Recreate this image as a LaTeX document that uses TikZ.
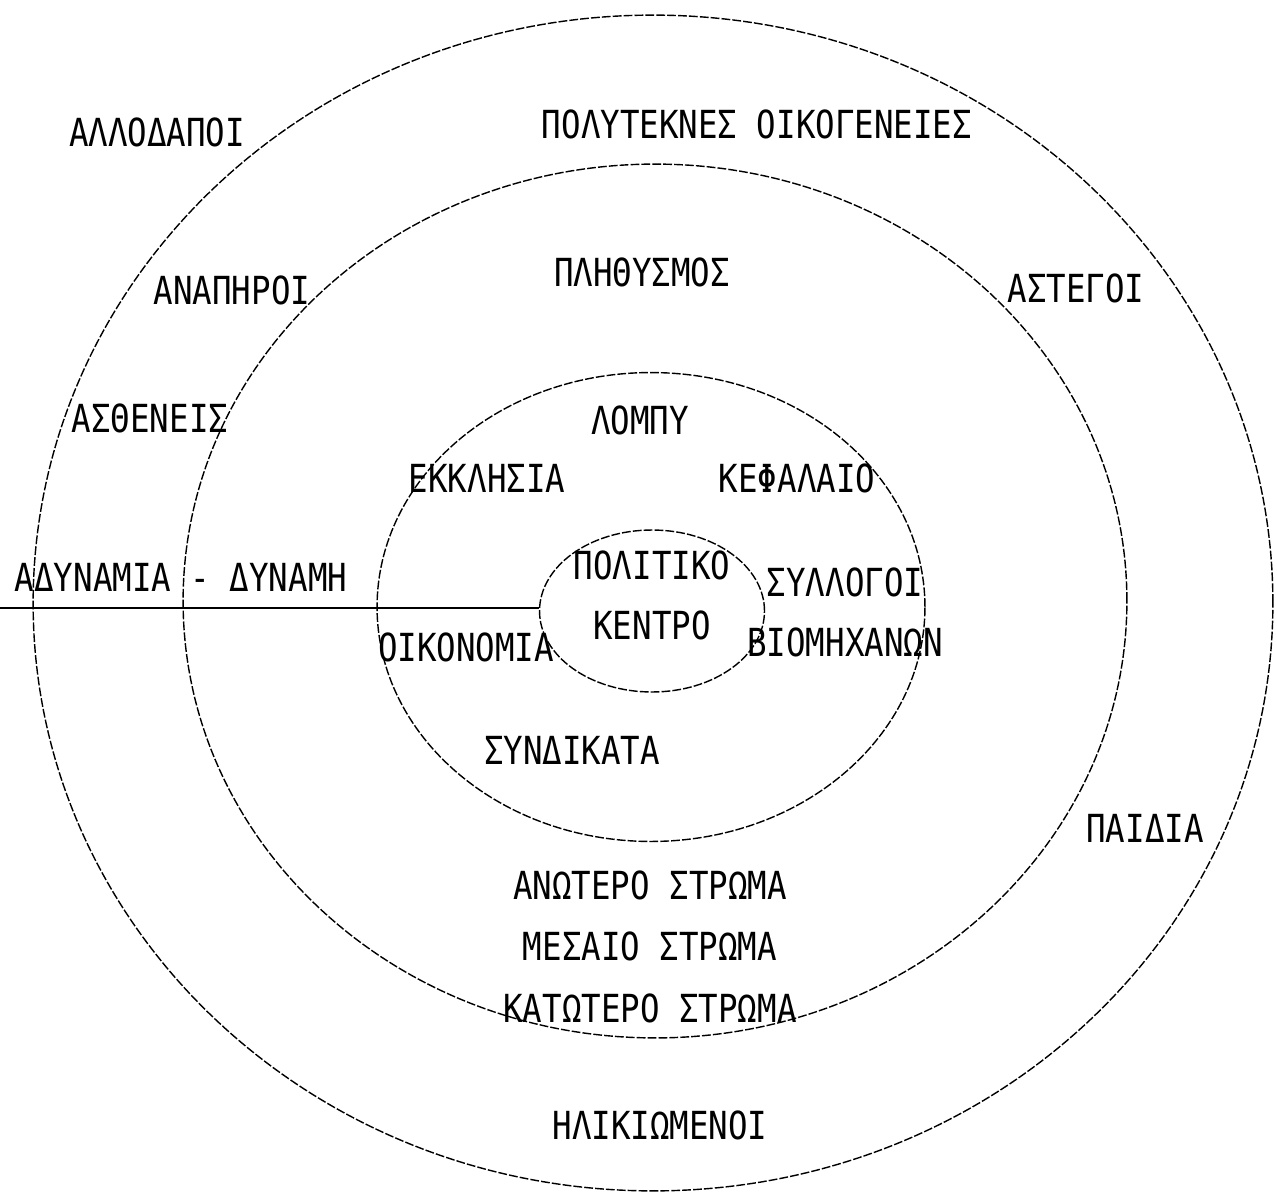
\documentclass[tikz,border=0pt]{standalone}
\usepackage{fontspec}
\newfontfamily\plotfont[FakeStretch=0.84]{DejaVu Sans Mono}
\usetikzlibrary{positioning,shapes.geometric}

\begin{document}
\begin{tikzpicture}[
    x=0.02cm,y=-0.02cm,
    node distance=0.66cm,
    ring/.style={draw,ellipse,inner sep=0pt,line width=0.8pt,dash pattern=on 5pt off 1.2pt},
    lbl/.style={inner sep=0pt,text height=16pt,text depth=0pt,font=\plotfont\fontsize{22}{24}\selectfont},
    axis/.style={line width=1.2pt}
  ]
    \useasboundingbox (0,0) rectangle (1277,1196);
    % rings, from the outside in
    \node[ring,minimum width=24.8cm,minimum height=23.52cm] (society) at (653,603) {};
    \node[ring,minimum width=18.88cm,minimum height=17.48cm] (population) at (655,601) {};
    \node[ring,minimum width=10.96cm,minimum height=9.38cm] (powers) at (651,607) {};
    \node[ring,minimum width=4.5cm,minimum height=3.24cm] (centre) at (652,611) {};

    % outer ring
    \node[lbl] (foreign) at (157,132) {ΑΛΛΟΔΑΠΟΙ};
    \node[lbl] (families) at (757,124) {ΠΟΛΥΤΕΚΝΕΣ ΟΙΚΟΓΕΝΕΙΕΣ};
    \node[lbl] (disabled) at (232,290) {ΑΝΑΠΗΡΟΙ};
    \node[lbl] (homeless) at (1076,288) {ΑΣΤΕΓΟΙ};
    \node[lbl] (sick) at (150,418) {ΑΣΘΕΝΕΙΣ};
    \node[lbl] (children) at (1145,828) {ΠΑΙΔΙΑ};
    \node[lbl] (elderly) at (660,1125) {ΗΛΙΚΙΩΜΕΝΟΙ};

    % population ring
    \node[lbl] (people) at (642,272) {ΠΛΗΘΥΣΜΟΣ};
    \node[lbl] (upper) at (650,885) {ΑΝΩΤΕΡΟ ΣΤΡΩΜΑ};
    \node[lbl,below=of upper] (middle) {ΜΕΣΑΙΟ ΣΤΡΩΜΑ};
    \node[lbl,below=of middle] (lower) {ΚΑΤΩΤΕΡΟ ΣΤΡΩΜΑ};

    % pressure groups
    \node[lbl] (lobby) at (640,420) {ΛΟΜΠΥ};
    \node[lbl] (church) at (487,478) {ΕΚΚΛΗΣΙΑ};
    \node[lbl] (capital) at (797,478) {ΚΕΦΑΛΑΙΟ};
    \node[lbl] (unions) at (845,582) {ΣΥΛΛΟΓΟΙ};
    \node[lbl,below=0.64cm of unions] (industry) {ΒΙΟΜΗΧΑΝΩΝ};
    \node[lbl] (economy) at (466,647) {ΟΙΚΟΝΟΜΙΑ};
    \node[lbl] (syndicates) at (572,750) {ΣΥΝΔΙΚΑΤΑ};

    % centre
    \node[lbl] (political) at (652,565) {ΠΟΛΙΤΙΚΟ};
    \node[lbl,below=0.64cm of political] (kentro) {ΚΕΝΤΡΟ};

    % power axis
    \node[lbl] (power) at (181,577) {ΑΔΥΝΑΜΙΑ - ΔΥΝΑΜΗ};
    \coordinate (edge) at (0,608);
    \draw[axis] (edge) -- (edge -| centre.west);
  \end{tikzpicture}
\end{document}
